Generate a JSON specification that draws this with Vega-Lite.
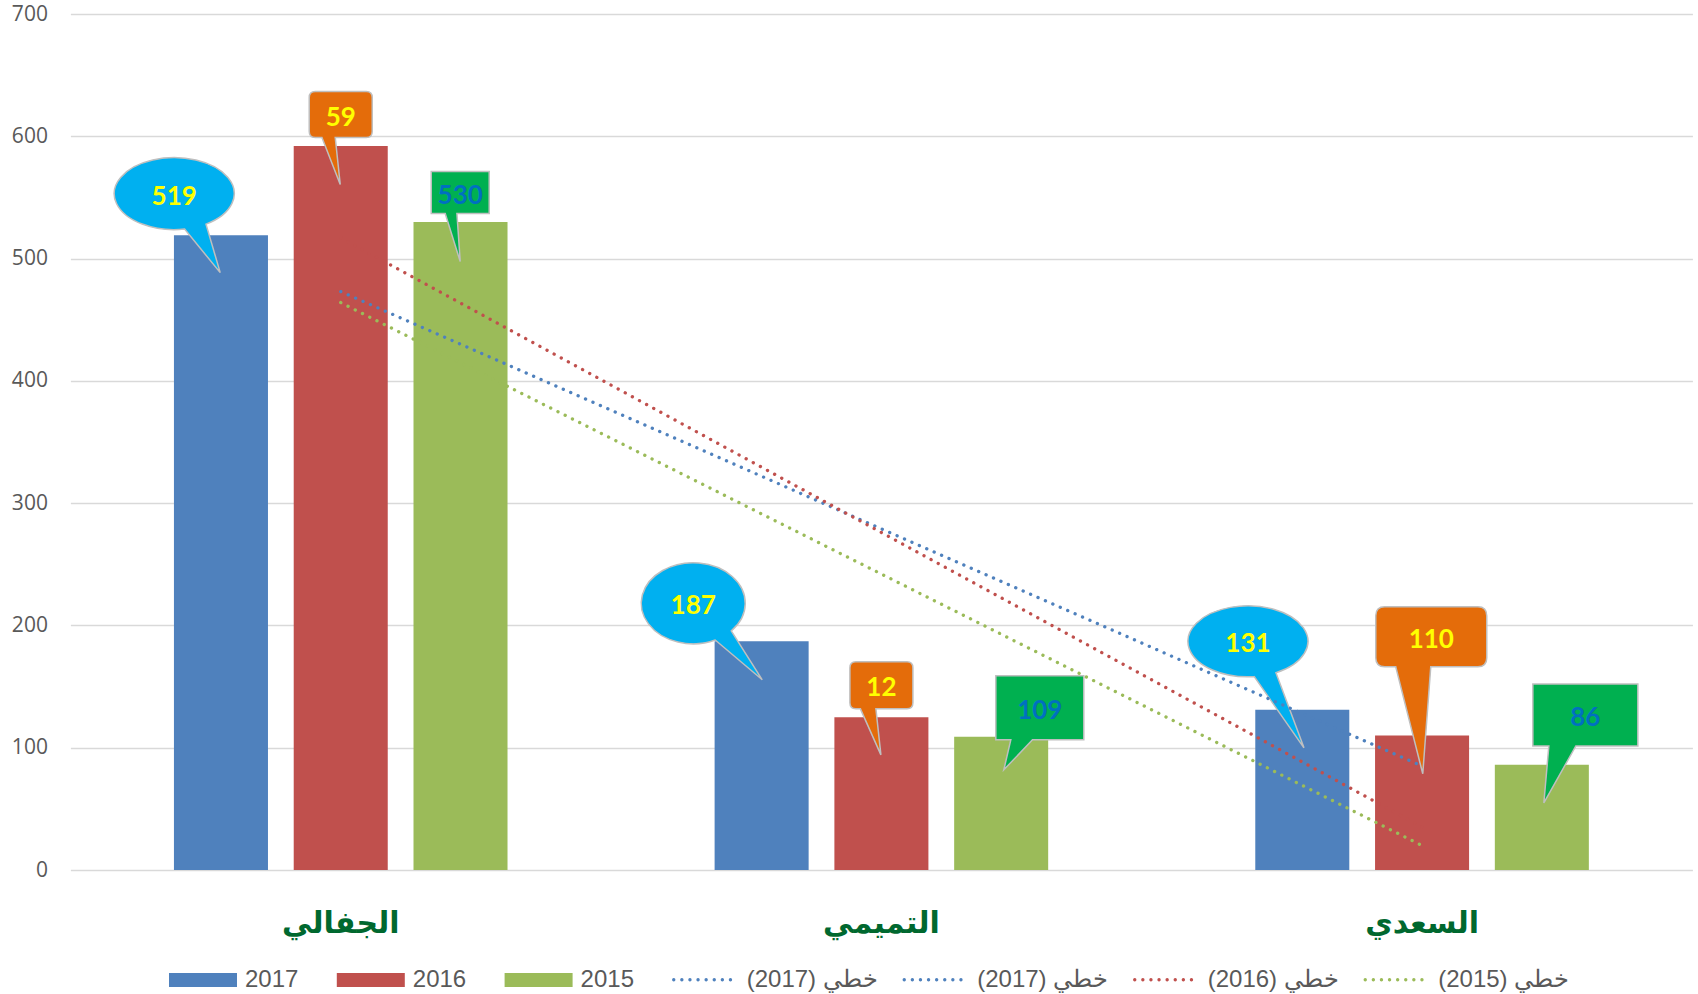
{
  "$schema": "https://vega.github.io/schema/vega-lite/v6.json",
  "width": 1622,
  "height": 856,
  "autosize": {"type": "none"},
  "padding": {"left": 70.4, "top": 14, "right": 5.6, "bottom": 124},
  "background": "#ffffff",
  "config": {
    "view": {"stroke": null},
    "axisY": {"grid": true, "gridColor": "#D9D9D9", "gridWidth": 1.5, "domain": false, "ticks": false, "labelFont": "Open Sans", "labelFontSize": 21, "labelColor": "#595959", "labelPadding": 23},
    "axisX": {"grid": false, "domain": false, "ticks": false, "labelAngle": 0, "labelFont": "DejaVu Sans", "labelFontWeight": "bold", "labelFontSize": 30, "labelColor": "#00682F", "labelPadding": 38}
  },
  "datasets": {
    "bars": [
      {"category": "الجفالي", "series": "2017", "value": 519},
      {"category": "الجفالي", "series": "2016", "value": 592},
      {"category": "الجفالي", "series": "2015", "value": 530},
      {"category": "التميمي", "series": "2017", "value": 187},
      {"category": "التميمي", "series": "2016", "value": 125},
      {"category": "التميمي", "series": "2015", "value": 109},
      {"category": "السعدي", "series": "2017", "value": 131},
      {"category": "السعدي", "series": "2016", "value": 110},
      {"category": "السعدي", "series": "2015", "value": 86}
    ],
    "trends": [
      {"trend": "(2017) خطي", "tx": 1, "ty": 473},
      {"trend": "(2017) خطي", "tx": 3, "ty": 85},
      {"trend": "(2016) خطي", "tx": 1, "ty": 517},
      {"trend": "(2016) خطي", "tx": 3, "ty": 35},
      {"trend": "(2015) خطي", "tx": 1, "ty": 464},
      {"trend": "(2015) خطي", "tx": 3, "ty": 20}
    ],
    "callouts": [
      {"id": "c1", "series": "2017", "label": "519", "cx": 0.692, "cy": 553.1},
      {"id": "c2", "series": "2016", "label": "59", "cx": 1.0, "cy": 617.8},
      {"id": "c3", "series": "2015", "label": "530", "cx": 1.221, "cy": 554.0},
      {"id": "c4", "series": "2017", "label": "187", "cx": 1.652, "cy": 218.1},
      {"id": "c5", "series": "2016", "label": "12", "cx": 2.0, "cy": 151.0},
      {"id": "c6", "series": "2015", "label": "109", "cx": 2.293, "cy": 132.6},
      {"id": "c7", "series": "2017", "label": "131", "cx": 2.678, "cy": 187.0},
      {"id": "c8", "series": "2016", "label": "110", "cx": 3.017, "cy": 190.7},
      {"id": "c9", "series": "2015", "label": "86", "cx": 3.302, "cy": 126.8}
    ]
  },
  "layer": [
    {
      "data": {"name": "bars"},
      "mark": {"type": "bar"},
      "encoding": {
        "x": {"field": "category", "type": "nominal", "title": null, "sort": ["الجفالي", "التميمي", "السعدي"], "scale": {"paddingInner": 0, "paddingOuter": 0}},
        "xOffset": {"field": "series", "type": "nominal", "sort": ["2017", "2016", "2015"], "scale": {"paddingInner": 0.215, "paddingOuter": 0.8645}},
        "y": {"field": "value", "type": "quantitative", "title": null, "scale": {"domain": [0, 700], "nice": false}, "axis": {"values": [0, 100, 200, 300, 400, 500, 600, 700]}},
        "fill": {"field": "series", "type": "nominal", "sort": ["2017", "2016", "2015"], "scale": {"domain": ["2017", "2016", "2015"], "range": ["#4F81BD", "#C0504D", "#9BBB59"]},
          "legend": {"orient": "none", "legendX": 98.6, "legendY": 932, "direction": "horizontal", "title": null, "padding": 0, "symbolType": "M-1,-0.206 H1 V0.206 H-1 Z", "symbolSize": 4624, "symbolStrokeWidth": 0, "labelFont": "Liberation Sans", "labelFontSize": 24, "labelColor": "#595959", "labelOffset": 8, "columnPadding": 37.8}}
      }
    },
    {
      "data": {"name": "callouts"},
      "mark": {"type": "point", "filled": true, "size": 4, "stroke": "#BFBFBF", "strokeWidth": 1.5, "opacity": 1},
      "encoding": {
        "x": {"field": "cx", "type": "quantitative", "scale": {"domain": [0.5, 3.5], "nice": false, "zero": false}, "axis": null},
        "y": {"field": "cy", "type": "quantitative", "title": null, "scale": {"domain": [0, 700], "nice": false}},
        "shape": {"field": "id", "type": "nominal", "legend": null, "scale": {
          "domain": ["c1", "c2", "c3", "c4", "c5", "c6", "c7", "c8", "c9"],
          "range": [
            "M10.42,35.45 A60,36 0 1,1 31.8,30.53 L46,79 Z",
            "M-25.5,-23 H25.5 Q31.5,-23 31.5,-17 V17 Q31.5,23 25.5,23 H-5.5 L-0.5,70 L-18.8,23 H-25.5 Q-31.5,23 -31.5,17 V-17 Q-31.5,-23 -25.5,-23 Z",
            "M-29,-21 H29 V21 H-3.3 L0,69 L-15,21 H-29 Z",
            "M21.98,36.7 A52,40.5 0 1,1 38.03,27.62 L69,76.5 Z",
            "M-25.5,-23.5 H25.5 Q31.5,-23.5 31.5,-17.5 V17.5 Q31.5,23.5 25.5,23.5 H-5.5 L-0.5,69.5 L-21,23.5 H-25.5 Q-31.5,23.5 -31.5,17.5 V-17.5 Q-31.5,-23.5 -25.5,-23.5 Z",
            "M-44,-32 H44 V32 H-7.3 L-36,62 L-29,32 H-44 Z",
            "M6.27,35.31 A60,35.5 0 1,1 27.98,31.4 L56,106.5 Z",
            "M-46.5,-30 H46.5 Q55.5,-30 55.5,-21 V21 Q55.5,30 46.5,30 H-0.5 L-8.5,137 L-35.5,30 H-46.5 Q-55.5,30 -55.5,21 V-21 Q-55.5,-30 -46.5,-30 Z",
            "M-52.5,-31 H52.5 V31 H-9.5 L-41.5,88 L-36.5,31 H-52.5 Z"
          ]}},
        "fill": {"field": "series", "type": "nominal", "legend": null, "scale": {"domain": ["2017", "2016", "2015"], "range": ["#00B0F0", "#E46C0A", "#00B050"]}}
      }
    },
    {
      "data": {"name": "callouts"},
      "mark": {"type": "text", "font": "Lato", "fontWeight": "bold", "fontSize": 26, "baseline": "middle", "align": "center", "dy": 3},
      "encoding": {
        "x": {"field": "cx", "type": "quantitative", "scale": {"domain": [0.5, 3.5], "nice": false, "zero": false}, "axis": null},
        "y": {"field": "cy", "type": "quantitative", "title": null, "scale": {"domain": [0, 700], "nice": false}},
        "text": {"field": "label", "type": "nominal"},
        "color": {"field": "series", "type": "nominal", "legend": null, "scale": {"domain": ["2017", "2016", "2015"], "range": ["#FFFF00", "#FFFF00", "#0070C0"]}}
      }
    },
    {
      "data": {"name": "trends"},
      "mark": {"type": "line", "strokeWidth": 3.3, "strokeDash": [0.1, 8], "strokeCap": "round"},
      "encoding": {
        "x": {"field": "tx", "type": "quantitative", "scale": {"domain": [0.5, 3.5], "nice": false, "zero": false}, "axis": null},
        "y": {"field": "ty", "type": "quantitative", "title": null, "scale": {"domain": [0, 700], "nice": false}},
        "stroke": {"field": "trend", "type": "nominal", "scale": {"domain": ["(2017) خطي", "(2017) خطي ", "(2016) خطي", "(2015) خطي"], "range": ["#4F81BD", "#4F81BD", "#C0504D", "#9BBB59"]},
          "legend": {"orient": "none", "legendX": 601.3, "legendY": 932, "direction": "horizontal", "title": null, "padding": 0, "symbolType": "stroke", "symbolSize": 3969, "symbolStrokeWidth": 3.3, "symbolDash": [0.1, 8], "labelFont": "Liberation Sans", "labelFontSize": 24, "labelColor": "#595959", "labelOffset": 8, "columnPadding": 18.5, "encode": {"symbols": {"update": {"strokeCap": {"value": "round"}}}}}}
      }
    }
  ],
  "resolve": {"scale": {"x": "independent", "fill": "independent", "color": "independent", "shape": "independent"}}
}
